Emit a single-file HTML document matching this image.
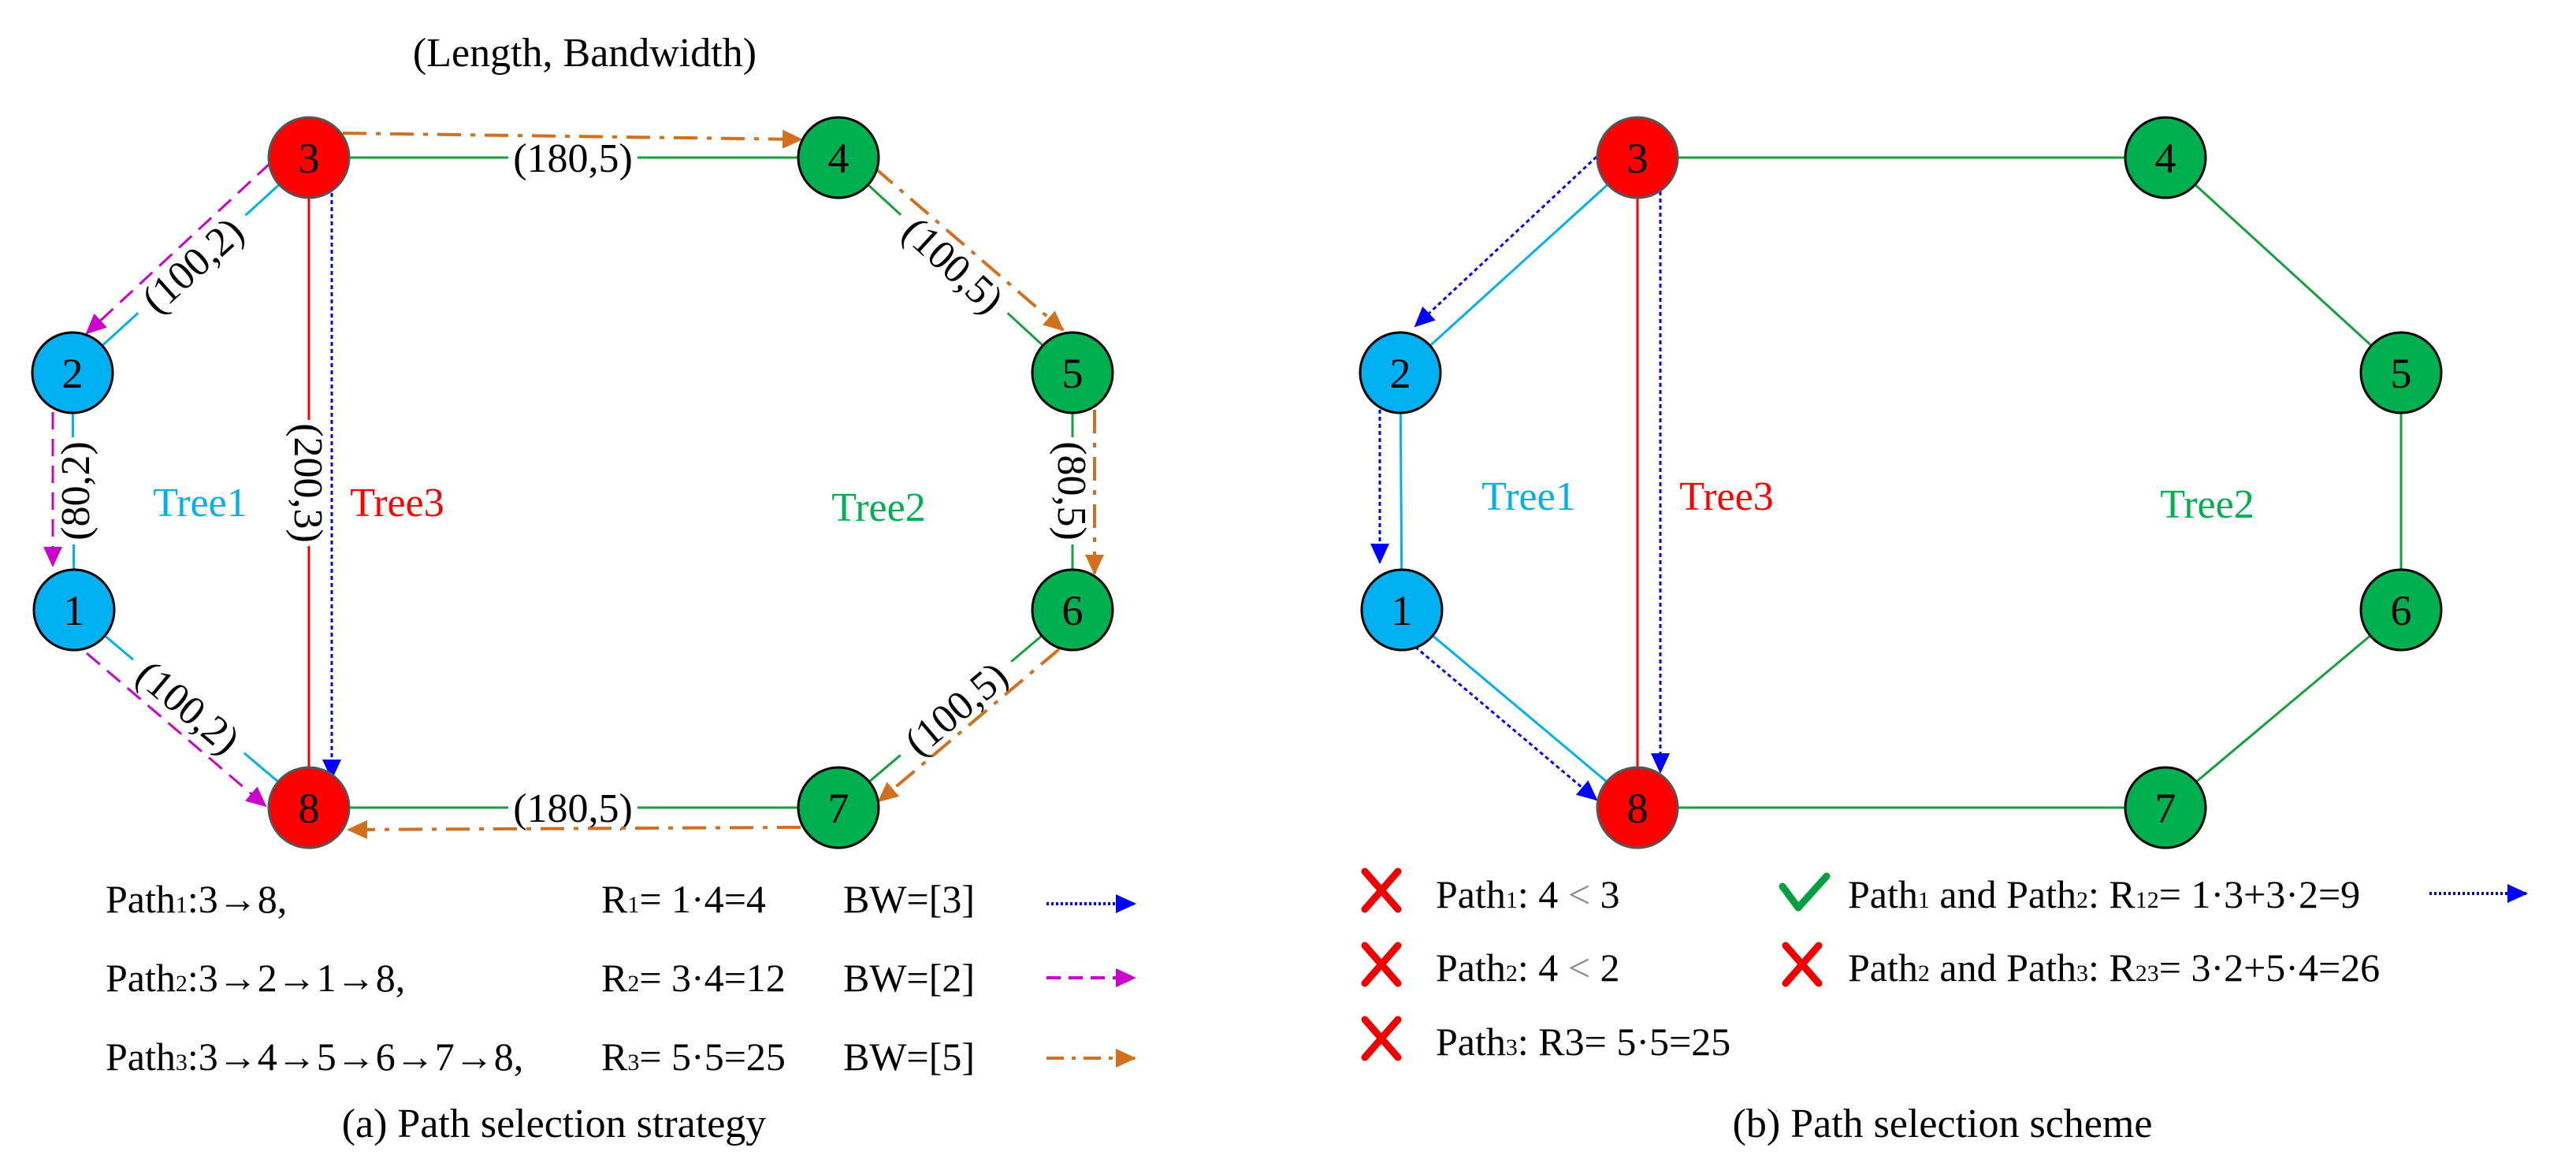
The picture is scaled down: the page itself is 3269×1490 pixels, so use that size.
<!DOCTYPE html>
<html><head><meta charset="utf-8"><style>
html,body{margin:0;padding:0;background:#fff;}
svg{display:block;}
text{font-family:"Liberation Serif",serif;}
</style></head><body>
<svg width="3269" height="1490" viewBox="0 0 3269 1490" xmlns="http://www.w3.org/2000/svg">
<defs>
<marker id="mo" markerUnits="userSpaceOnUse" markerWidth="26" markerHeight="24" refX="24" refY="12" orient="auto"><path d="M0,0 L26,12 L0,24 Z" fill="#d2701e"/></marker>
<marker id="mm" markerUnits="userSpaceOnUse" markerWidth="26" markerHeight="24" refX="24" refY="12" orient="auto"><path d="M0,0 L26,12 L0,24 Z" fill="#cc00cc"/></marker>
<marker id="mb" markerUnits="userSpaceOnUse" markerWidth="26" markerHeight="24" refX="24" refY="12" orient="auto"><path d="M0,0 L26,12 L0,24 Z" fill="#0000ff"/></marker>
</defs>

<!-- ============ LEFT PANEL ============ -->
<text x="742" y="84" font-size="52" text-anchor="middle">(Length, Bandwidth)</text>

<g stroke-width="3" fill="none">
<line x1="392" y1="200" x2="1064" y2="200" stroke="#14a03c"/>
<line x1="392" y1="200" x2="92" y2="473" stroke="#00b0f0"/>
<line x1="92" y1="473" x2="94" y2="774" stroke="#00b0f0"/>
<line x1="94" y1="774" x2="392" y2="1025" stroke="#00b0f0"/>
<line x1="392" y1="200" x2="392" y2="1025" stroke="#ff0000"/>
<line x1="1064" y1="200" x2="1361" y2="473" stroke="#14a03c"/>
<line x1="1361" y1="473" x2="1361" y2="774" stroke="#14a03c"/>
<line x1="1361" y1="774" x2="1064" y2="1025" stroke="#14a03c"/>
<line x1="1064" y1="1025" x2="392" y2="1025" stroke="#14a03c"/>
</g>

<!-- edge labels -->
<g font-size="52">
<g transform="translate(727,200)"><rect x="-82" y="-26" width="164" height="52" fill="#fff"/><text y="18" text-anchor="middle">(180,5)</text></g>
<g transform="translate(727,1025)"><rect x="-82" y="-26" width="164" height="52" fill="#fff"/><text y="18" text-anchor="middle">(180,5)</text></g>
<g transform="translate(244,336) rotate(-42)"><rect x="-92" y="-26" width="184" height="52" fill="#fff"/><text y="18" text-anchor="middle">(100,2)</text></g>
<g transform="translate(239,897) rotate(40)"><rect x="-92" y="-26" width="184" height="52" fill="#fff"/><text y="18" text-anchor="middle">(100,2)</text></g>
<g transform="translate(1210,336) rotate(42.6)"><rect x="-92" y="-26" width="184" height="52" fill="#fff"/><text y="18" text-anchor="middle">(100,5)</text></g>
<g transform="translate(1213,899) rotate(-40.2)"><rect x="-92" y="-26" width="184" height="52" fill="#fff"/><text y="18" text-anchor="middle">(100,5)</text></g>
<g transform="translate(95,623) rotate(-90)"><rect x="-68" y="-26" width="136" height="52" fill="#fff"/><text y="18" text-anchor="middle">(80,2)</text></g>
<g transform="translate(1361,623) rotate(90)"><rect x="-68" y="-26" width="136" height="52" fill="#fff"/><text y="18" text-anchor="middle">(80,5)</text></g>
<g transform="translate(392,613) rotate(90)"><rect x="-80" y="-26" width="160" height="52" fill="#fff"/><text y="18" text-anchor="middle">(200,3)</text></g>
</g>

<!-- path arrows left -->
<g fill="none">
<path d="M435,169 L1017,177" stroke="#d2701e" stroke-width="4" stroke-dasharray="30 12 6 12" marker-end="url(#mo)"/>
<path d="M1110,213 L1349,419" stroke="#d2701e" stroke-width="4" stroke-dasharray="30 12 6 12" marker-end="url(#mo)"/>
<path d="M1389,520 L1389,728" stroke="#d2701e" stroke-width="4" stroke-dasharray="30 12 6 12" marker-end="url(#mo)"/>
<path d="M1344,824 L1115,1017" stroke="#d2701e" stroke-width="4" stroke-dasharray="30 12 6 12" marker-end="url(#mo)"/>
<path d="M1016,1050 L442,1053" stroke="#d2701e" stroke-width="4" stroke-dasharray="30 12 6 12" marker-end="url(#mo)"/>
<path d="M343,207 L110,423" stroke="#cc00cc" stroke-width="3" stroke-dasharray="22 12" marker-end="url(#mm)"/>
<path d="M67,523 L67,718" stroke="#cc00cc" stroke-width="3" stroke-dasharray="22 12" marker-end="url(#mm)"/>
<path d="M110,829 L337,1023" stroke="#cc00cc" stroke-width="3" stroke-dasharray="22 12" marker-end="url(#mm)"/>
<path d="M421,245 L421,988" stroke="#0000ff" stroke-width="3" stroke-dasharray="5 4" marker-end="url(#mb)"/>
</g>

<!-- nodes left -->
<g stroke-width="3" font-size="54">
<circle cx="392" cy="200" r="51" fill="#ff0000" stroke="#555"/>
<circle cx="392" cy="1025" r="51" fill="#ff0000" stroke="#555"/>
<circle cx="92" cy="473" r="51" fill="#00b0f0" stroke="#000"/>
<circle cx="94" cy="774" r="51" fill="#00b0f0" stroke="#000"/>
<circle cx="1064" cy="200" r="51" fill="#00b050" stroke="#000"/>
<circle cx="1361" cy="473" r="51" fill="#00b050" stroke="#000"/>
<circle cx="1361" cy="774" r="51" fill="#00b050" stroke="#000"/>
<circle cx="1064" cy="1025" r="51" fill="#00b050" stroke="#000"/>
</g>
<g font-size="54" text-anchor="middle">
<text x="392" y="219">3</text><text x="392" y="1044">8</text>
<text x="92" y="492">2</text><text x="94" y="793">1</text>
<text x="1064" y="219">4</text><text x="1361" y="492">5</text>
<text x="1361" y="793">6</text><text x="1064" y="1044">7</text>
</g>
<g font-size="52" text-anchor="middle">
<text x="254" y="655" fill="#00b0f0">Tree1</text>
<text x="504" y="655" fill="#ff0000">Tree3</text>
<text x="1115" y="661" fill="#00b050">Tree2</text>
</g>

<!-- left legend -->
<g font-size="50">
<text x="134" y="1158">Path<tspan font-size="30">1</tspan>:3→8,</text>
<text x="763" y="1158">R<tspan font-size="30">1</tspan>= 1·4=4</text>
<text x="1070" y="1158">BW=[3]</text>
<text x="134" y="1258">Path<tspan font-size="30">2</tspan>:3→2→1→8,</text>
<text x="763" y="1258">R<tspan font-size="30">2</tspan>= 3·4=12</text>
<text x="1070" y="1258">BW=[2]</text>
<text x="134" y="1358">Path<tspan font-size="30">3</tspan>:3→4→5→6→7→8,</text>
<text x="763" y="1358">R<tspan font-size="30">3</tspan>= 5·5=25</text>
<text x="1070" y="1358">BW=[5]</text>
<text x="703" y="1443" font-size="52" text-anchor="middle">(a) Path selection strategy</text>
</g>
<g fill="none">
<path d="M1328,1147 L1440,1147" stroke="#0000ff" stroke-width="4" stroke-dasharray="3 3" marker-end="url(#mb)"/>
<path d="M1328,1241 L1440,1241" stroke="#cc00cc" stroke-width="4" stroke-dasharray="18 10" marker-end="url(#mm)"/>
<path d="M1328,1343 L1440,1343" stroke="#d2701e" stroke-width="4" stroke-dasharray="22 10 5 10" marker-end="url(#mo)"/>
</g>

<!-- ============ RIGHT PANEL ============ -->
<g stroke-width="3" fill="none">
<line x1="2078" y1="200" x2="2748" y2="200" stroke="#14a03c"/>
<line x1="2078" y1="200" x2="1777" y2="473" stroke="#00b0f0"/>
<line x1="1777" y1="473" x2="1779" y2="774" stroke="#00b0f0"/>
<line x1="1779" y1="774" x2="2078" y2="1025" stroke="#00b0f0"/>
<line x1="2078" y1="200" x2="2078" y2="1025" stroke="#ff0000"/>
<line x1="2748" y1="200" x2="3047" y2="473" stroke="#14a03c"/>
<line x1="3047" y1="473" x2="3047" y2="774" stroke="#14a03c"/>
<line x1="3047" y1="774" x2="2748" y2="1025" stroke="#14a03c"/>
<line x1="2748" y1="1025" x2="2078" y2="1025" stroke="#14a03c"/>
</g>
<g fill="none" stroke="#0000ff" stroke-width="3" stroke-dasharray="5 4">
<path d="M2026,199 L1796,414" marker-end="url(#mb)"/>
<path d="M1751,511 L1751,714" marker-end="url(#mb)"/>
<path d="M1796,821 L2026,1015" marker-end="url(#mb)"/>
<path d="M2107,234 L2107,980" marker-end="url(#mb)"/>
</g>
<g stroke-width="3">
<circle cx="2078" cy="200" r="51" fill="#ff0000" stroke="#555"/>
<circle cx="2078" cy="1025" r="51" fill="#ff0000" stroke="#555"/>
<circle cx="1777" cy="473" r="51" fill="#00b0f0" stroke="#000"/>
<circle cx="1779" cy="774" r="51" fill="#00b0f0" stroke="#000"/>
<circle cx="2748" cy="200" r="51" fill="#00b050" stroke="#000"/>
<circle cx="3047" cy="473" r="51" fill="#00b050" stroke="#000"/>
<circle cx="3047" cy="774" r="51" fill="#00b050" stroke="#000"/>
<circle cx="2748" cy="1025" r="51" fill="#00b050" stroke="#000"/>
</g>
<g font-size="54" text-anchor="middle">
<text x="2078" y="219">3</text><text x="2078" y="1044">8</text>
<text x="1777" y="492">2</text><text x="1779" y="793">1</text>
<text x="2748" y="219">4</text><text x="3047" y="492">5</text>
<text x="3047" y="793">6</text><text x="2748" y="1044">7</text>
</g>
<g font-size="52" text-anchor="middle">
<text x="1940" y="647" fill="#00b0f0">Tree1</text>
<text x="2191" y="647" fill="#ff0000">Tree3</text>
<text x="2801" y="657" fill="#00b050">Tree2</text>
</g>

<!-- right legend -->
<g stroke="#ee0000" stroke-width="9" stroke-linecap="round" fill="none">
<path d="M1732,1106 L1774,1154 M1774,1106 L1732,1154"/>
<path d="M1732,1200 L1774,1248 M1774,1200 L1732,1248"/>
<path d="M1732,1294 L1774,1342 M1774,1294 L1732,1342"/>
<path d="M2266,1200 L2308,1248 M2308,1200 L2266,1248"/>
</g>
<path d="M2262,1125 L2282,1152 L2318,1112" stroke="#00a040" stroke-width="9" fill="none" stroke-linecap="round" stroke-linejoin="round"/>
<g font-size="50">
<text x="1822" y="1152">Path<tspan font-size="30">1</tspan>: 4 <tspan fill="#888">&lt;</tspan> 3</text>
<text x="1822" y="1245">Path<tspan font-size="30">2</tspan>: 4 <tspan fill="#888">&lt;</tspan> 2</text>
<text x="1822" y="1339">Path<tspan font-size="30">3</tspan>: R3= 5·5=25</text>
<text x="2345" y="1152">Path<tspan font-size="30">1</tspan> and Path<tspan font-size="30">2</tspan>: R<tspan font-size="30">12</tspan>= 1·3+3·2=9</text>
<text x="2345" y="1245">Path<tspan font-size="30">2</tspan> and Path<tspan font-size="30">3</tspan>: R<tspan font-size="30">23</tspan>= 3·2+5·4=26</text>
<text x="2465" y="1443" font-size="52" text-anchor="middle">(b) Path selection  scheme</text>
</g>
<path d="M3083,1134 L3206,1134" stroke="#0000ff" stroke-width="4" stroke-dasharray="3 3" fill="none" marker-end="url(#mb)"/>
</svg>
</body></html>
